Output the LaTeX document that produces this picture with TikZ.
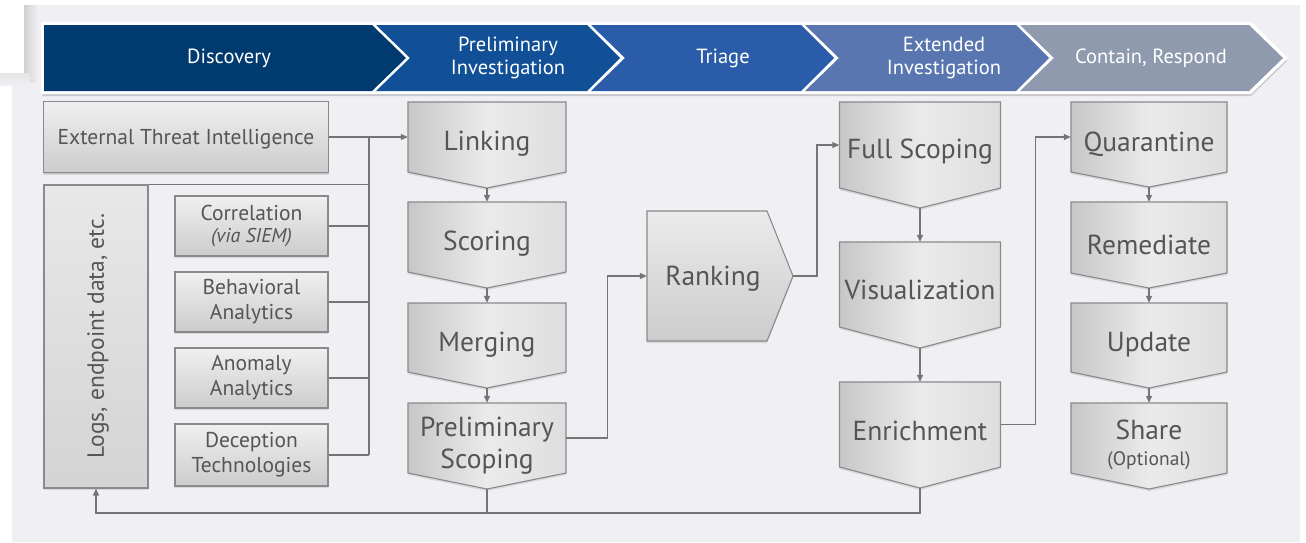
\documentclass[tikz,border=0pt]{standalone}
\usepackage{fontspec}
\setmainfont{PT Sans}
\usetikzlibrary{arrows.meta,shadows,calc}
\definecolor{bgc}{HTML}{F0F0F4}
\definecolor{cA}{HTML}{013A6E}
\definecolor{cB}{HTML}{114F96}
\definecolor{cC}{HTML}{2A5CA9}
\definecolor{cD}{HTML}{5976B0}
\definecolor{cE}{HTML}{8F9AAF}
\definecolor{bord}{HTML}{8A8A8A}
\definecolor{txtc}{HTML}{555555}
\definecolor{linec}{HTML}{757575}
\tikzset{
  bantxt/.style={text=white, align=center, font=\fontsize{20.5}{23}\selectfont},
  pentbox/.style={draw=bord, line width=1.1pt, left color=black!22, right color=black!13, middle color=black!8,
    drop shadow={shadow xshift=0pt, shadow yshift=-2pt, opacity=0.22}},
  pentgeo/.style={inner sep=0pt, draw=none},
  pentlbl/.style={inner sep=0pt, text=txtc, align=center, font=\fontsize{27.5}{32}\selectfont},
  lbox/.style={draw=bord, line width=1.1pt, top color=black!6, bottom color=black!20, inner sep=0pt,
    text=txtc, align=center, font=\fontsize{21.5}{25}\selectfont,
    drop shadow={shadow xshift=0pt, shadow yshift=-2pt, opacity=0.22}},
  conn/.style={draw=linec, line width=1.2pt},
  arr/.style={conn, -{Triangle[length=7pt,width=6pt]}},
}
\newcommand\pent[8]{%
  \path[pentbox] ({#2-#3},#4) -- ({#2+#3},#4) -- ({#2+#3},#5) -- (#2,#6) -- ({#2-#3},#5) -- cycle;
  \node[pentgeo, minimum width={2*#3}, minimum height={#5-#4}] (#1) at (#2,{(#4+#5)/2}) {};
  \node[pentlbl] (#1-txt) at ($(#1.center)+(0,#7)$) {#8};
  \coordinate (#1-tip) at (#2,#6);
}
\begin{document}
\begin{tikzpicture}[x=1pt,y=-1pt]
\useasboundingbox (0,0) rectangle (1306,542);
\fill[white] (0,0) rectangle (1306,542);
\fill[bgc] (12,5) rectangle (1300,542);
% screenshot artifact at top-left
\shade[left color=black!18, right color=bgc] (24,5) rectangle (38,82);
\shade[top color=black!10, bottom color=bgc] (0,73) rectangle (30,85);
\fill[white] (0,0) rectangle (24,73);
% banner
\path[fill=bgc, drop shadow={shadow xshift=0pt, shadow yshift=-3pt, opacity=0.35}] (42,23) -- (1251,23) -- (1287,58) -- (1251,93) -- (42,93) -- cycle;
\fill[white] (41,22) -- (1251,22) -- (1288,58) -- (1251,94) -- (41,94) -- cycle;
\fill[cA] (44,25) -- (372,25) -- (406,58) -- (372,91) -- (44,91) -- cycle;
\fill[cB] (376,25) -- (587,25) -- (620,58) -- (587,91) -- (376,91) -- (410,58) -- cycle;
\fill[cC] (591,25) -- (801,25) -- (834,58) -- (801,91) -- (591,91) -- (625,58) -- cycle;
\fill[cD] (805,25) -- (1016,25) -- (1049,58) -- (1016,91) -- (805,91) -- (839,58) -- cycle;
\fill[cE] (1020,25) -- (1249,25) -- (1283,58) -- (1249,91) -- (1020,91) -- (1054,58) -- cycle;
\node[bantxt] (b1) at (229,58) {Discovery};
\node[bantxt] (b2) at (508,58) {Preliminary\\Investigation};
\node[bantxt] (b3) at (723,58) {Triage};
\node[bantxt] (b4) at (944,58) {Extended\\Investigation};
\node[bantxt] (b5) at (1151,58) {Contain, Respond};
% left column
\node[lbox, minimum width=284, minimum height=70, draw=none, top color=bgc, bottom color=bgc, drop shadow={opacity=0}] (eti) at (186,137) {};
\path[lbox] (eti.north west) rectangle (eti.south east);
\node[text=txtc, font=\fontsize{21.5}{25}\selectfont] (etitxt) at (186,139) {External Threat Intelligence};
\node[lbox, minimum width=104, minimum height=303, top color=black!9, bottom color=black!17] (logs) at (96,336.5) {};
\node[rotate=90, text=txtc, font=\fontsize{23.5}{26}\selectfont] (logstxt) at (98,336) {Logs, endpoint data, etc.};
\node[lbox, minimum width=153, minimum height=60] (corr) at (251.5,226) {Correlation\\[-3pt]{\itshape\fontsize{20}{22}\selectfont(via SIEM)}};
\node[lbox, minimum width=153, minimum height=60] (beh) at (251.5,302) {Behavioral\\Analytics};
\node[lbox, minimum width=153, minimum height=60] (anom) at (251.5,378) {Anomaly\\Analytics};
\node[lbox, minimum width=153, minimum height=62] (dec) at (251.5,455) {Deception\\Technologies};
% column 1
\pent{link}{487}{79}{102}{172}{188}{7}{Linking}
\pent{score}{487}{79}{202}{272}{288}{7}{Scoring}
\pent{merge}{487}{79}{303}{372}{388}{7}{Merging}
\pent{ps}{487}{79}{403}{473}{489}{8}{Preliminary\\Scoping}
% ranking
\path[draw=bord, line width=1.1pt, top color=black!8, bottom color=black!20,
  drop shadow={shadow xshift=0pt, shadow yshift=-2pt, opacity=0.22}]
  (647,211) -- (767,211) -- (793,276) -- (767,341) -- (647,341) -- cycle;
\node[pentgeo, minimum width=120, minimum height=130] (rank) at (707,276) {};
\node[pentlbl] (rank-txt) at (713,279) {Ranking};
\coordinate (rank-tip) at (793,276);
% column 3
\pent{fs}{920}{80.5}{102}{188}{208}{7}{Full Scoping}
\pent{vis}{920}{80.5}{242}{327}{348}{5}{Visualization}
\pent{enr}{920}{80.5}{382}{467}{488}{6}{Enrichment}
% column 4
\pent{quar}{1149}{78}{102}{172}{187}{7}{Quarantine}
\pent{rem}{1149}{78}{202}{273}{288}{7}{Remediate}
\pent{upd}{1149}{78}{303}{372}{388}{7}{Update}
\pent{share}{1149}{78}{403}{473}{489}{7}{Share\\[-6pt]{\fontsize{19.5}{22}\selectfont(Optional)}}
% connectors
\coordinate (bustop) at (369,137);
\coordinate (busbot) at (369,455);
\draw[conn] (bustop) -- (busbot);
\draw[arr] (eti.east) -- (link.west);
\draw[conn] (logs.north east) -- (logs.north east -| bustop);
\draw[conn] (corr.east) -- (corr.east -| bustop);
\draw[conn] (beh.east) -- (beh.east -| bustop);
\draw[conn] (anom.east) -- (anom.east -| bustop);
\draw[conn] (dec.east) -- (busbot);
\draw[arr] (link-tip) -- (score.north);
\draw[arr] (score-tip) -- (merge.north);
\draw[arr] (merge-tip) -- (ps.north);
\draw[arr] (ps.east) -- ++(41,0) |- (rank.west);
\draw[arr] (rank-tip) -- ++(24,0) |- (fs.west);
\draw[arr] (fs-tip) -- (vis.north);
\draw[arr] (vis-tip) -- (enr.north);
\draw[arr] (enr.east) -- ++(35,0) |- (quar.west);
\draw[arr] (quar-tip) -- (rem.north);
\draw[arr] (rem-tip) -- (upd.north);
\draw[arr] (upd-tip) -- (share.north);
\draw[arr] (enr-tip) -- ++(0,25) -| (logs.south);
\draw[conn] (ps-tip) -- ++(0,24);
\end{tikzpicture}
\end{document}
